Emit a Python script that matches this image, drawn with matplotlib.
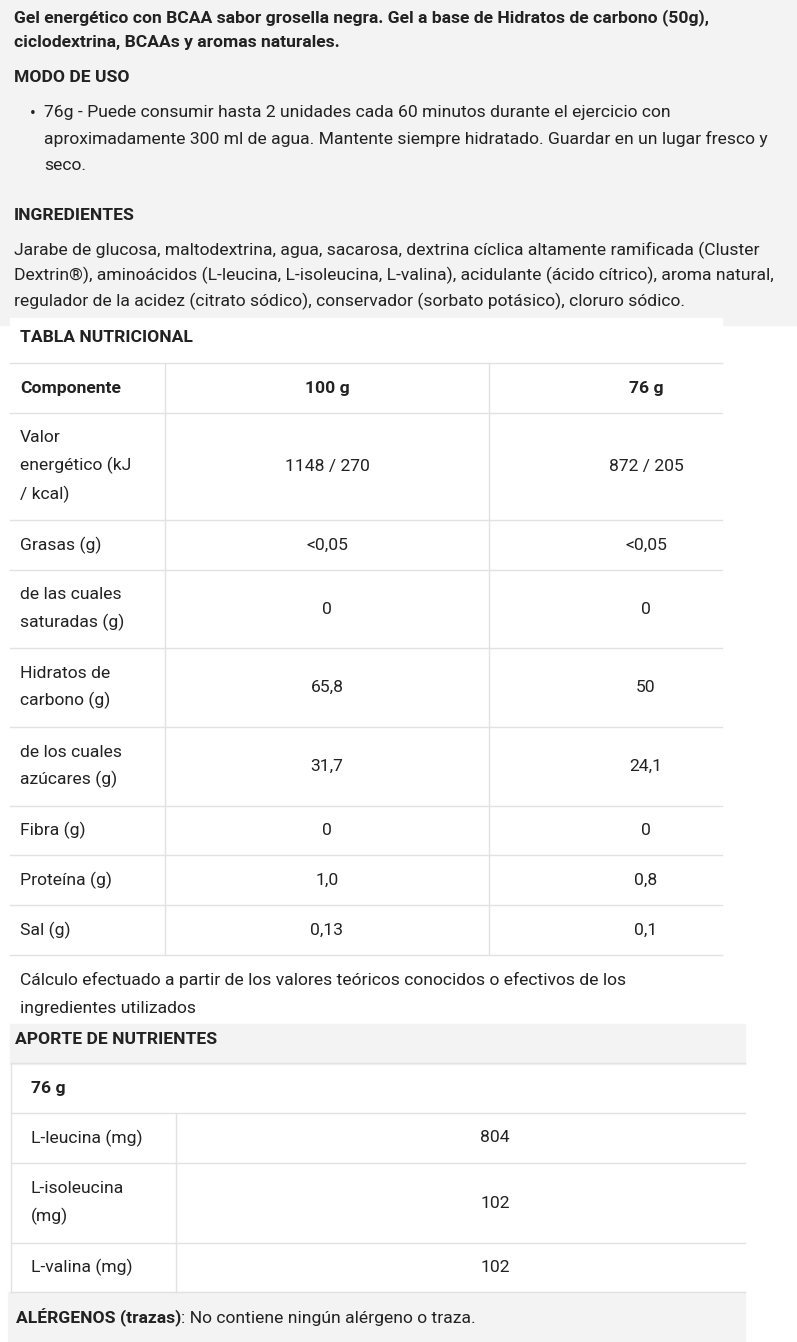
import matplotlib.pyplot as plt
from matplotlib.patches import Rectangle

plt.rcParams['font.family'] = ['Roboto', 'DejaVu Sans']

intro_lines = ["Gel energético con BCAA sabor grosella negra. Gel a base de Hidratos de carbono (50g),",
               "ciclodextrina, BCAAs y aromas naturales."]
uso_lines = ["76g - Puede consumir hasta 2 unidades cada 60 minutos durante el ejercicio con",
             "aproximadamente 300 ml de agua. Mantente siempre hidratado. Guardar en un lugar fresco y",
             "seco."]
ingr_lines = ["Jarabe de glucosa, maltodextrina, agua, sacarosa, dextrina cíclica altamente ramificada (Cluster",
              "Dextrin®), aminoácidos (L-leucina, L-isoleucina, L-valina), acidulante (ácido cítrico), aroma natural,",
              "regulador de la acidez (citrato sódico), conservador (sorbato potásico), cloruro sódico."]

components = ["Valor\nenergético (kJ\n/ kcal)", "Grasas (g)", "de las cuales\nsaturadas (g)",
              "Hidratos de\ncarbono (g)", "de los cuales\nazúcares (g)", "Fibra (g)", "Proteína (g)", "Sal (g)"]
per100 = ["1148 / 270", "<0,05", "0", "65,8", "31,7", "0", "1,0", "0,13"]
per76 = ["872 / 205", "<0,05", "0", "50", "24,1", "0", "0,8", "0,1"]
row_edges = [413, 520, 570, 648, 727, 806, 855, 905, 955]

aminos = ["L-leucina (mg)", "L-isoleucina\n(mg)", "L-valina (mg)"]
amino_vals = ["804", "102", "102"]
amino_edges = [1113, 1163, 1243, 1292]

W, H = 797, 1342
fig = plt.figure(figsize=(W / 100, H / 100), dpi=100)
ax = fig.add_axes([0, 0, 1, 1])
ax.set_xlim(0, W)
ax.set_ylim(H, 0)
ax.axis('off')

gray = '#f3f3f3'
line = '#e2e2e2'
txt = '#222222'
fs = 12.6
ls = 1.55

ax.add_patch(Rectangle((0, 0), W, 325, color=gray, zorder=0))
ax.add_patch(Rectangle((10, 318), 712, 10, color='white', zorder=0))
ax.add_patch(Rectangle((10, 1024), 735, 40, color=gray, zorder=0))
ax.add_patch(Rectangle((8, 1292), 737, 50, color=gray, zorder=0))

def para(lines, y, x=14, weight='normal', step=28.5):
    for i, s in enumerate(lines):
        ax.text(x, y + i * step, s, fontsize=fs, va='center', color=txt, fontweight=weight)

para(intro_lines, 18, weight='bold', step=25)
ax.text(14, 77, "MODO DE USO", fontsize=fs, va='center', color=txt, fontweight='bold')
ax.text(30, 113, "•", fontsize=fs, va='center', color=txt)
para(uso_lines, 113, x=44, step=26)
ax.text(14, 215, "INGREDIENTES", fontsize=fs, va='center', color=txt, fontweight='bold')
para(ingr_lines, 250, step=25.5)

# tabla nutricional
ax.text(20, 337, "TABLA NUTRICIONAL", fontsize=fs, va='center', color=txt, fontweight='bold')
cols = [10, 165, 489, 722]
ax.plot([cols[0], cols[3]], [363, 363], color=line, lw=1)
ax.text(20, 388, "Componente", fontsize=fs, va='center', color=txt, fontweight='bold')
ax.text(327, 388, "100 g", fontsize=fs, va='center', ha='center', color=txt, fontweight='bold')
ax.text(646, 388, "76 g", fontsize=fs, va='center', ha='center', color=txt, fontweight='bold')
top = 413
for name, a, b, bot in zip(components, per100, per76, row_edges[1:]):
    ax.plot([cols[0], cols[3]], [top, top], color=line, lw=1)
    yc = (top + bot) / 2
    ax.text(20, yc, name, fontsize=fs, va='center', color=txt, linespacing=1.85)
    ax.text(327, yc, a, fontsize=fs, va='center', ha='center', color=txt)
    ax.text(646, yc, b, fontsize=fs, va='center', ha='center', color=txt)
    top = bot
ax.plot([cols[0], cols[3]], [955, 955], color=line, lw=1)
for x in cols[1:3]:
    ax.plot([x, x], [363, 955], color=line, lw=1)
ax.text(20, 980, "Cálculo efectuado a partir de los valores teóricos conocidos o efectivos de los",
        fontsize=fs, va='center', color=txt)
ax.text(20, 1009, "ingredientes utilizados", fontsize=fs, va='center', color=txt)

# aporte de nutrientes
ax.text(15, 1040, "APORTE DE NUTRIENTES", fontsize=fs, va='center', color=txt, fontweight='bold')
ax.plot([11, 745], [1063, 1063], color=line, lw=1)
ax.plot([11, 11], [1063, 1292], color=line, lw=1)
ax.text(31, 1088, "76 g", fontsize=fs, va='center', color=txt, fontweight='bold')
for name, v, t, b in zip(aminos, amino_vals, amino_edges[:-1], amino_edges[1:]):
    ax.plot([11, 745], [t, t], color=line, lw=1)
    yc = (t + b) / 2
    ax.text(31, yc, name, fontsize=fs, va='center', color=txt, linespacing=1.85)
    ax.text(495, yc, v, fontsize=fs, va='center', ha='center', color=txt)
ax.plot([11, 745], [1292, 1292], color=line, lw=1)
ax.plot([176, 176], [1113, 1292], color=line, lw=1)

alg = ax.text(16, 1318, "ALÉRGENOS (trazas)", fontsize=fs, va='center', color=txt, fontweight='bold')
ax.annotate(": No contiene ningún alérgeno o traza.", xy=(1, 0.5), xycoords=alg,
            fontsize=fs, va='center', ha='left', color=txt)

fig.savefig("out.png", dpi=100)
